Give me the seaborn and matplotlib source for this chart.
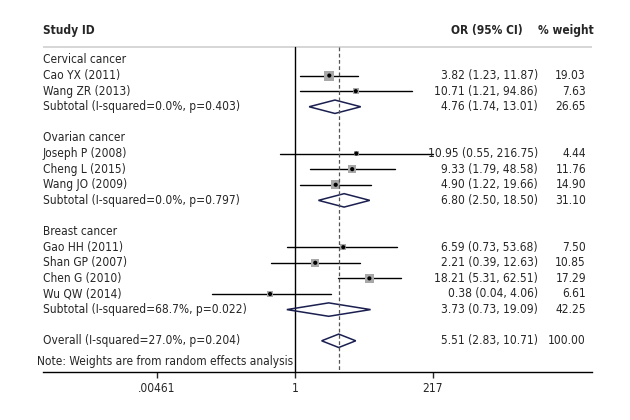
import numpy as np
import matplotlib
matplotlib.use("Agg")
import matplotlib.pyplot as plt
import seaborn as sns
import pandas as pd

# studies
groups = ["Cervical cancer", "Ovarian cancer", "Breast cancer"]
group_n = [2, 3, 4]
studies = ["Cao YX (2011)", "Wang ZR (2013)",
           "Joseph P (2008)", "Cheng L (2015)", "Wang JO (2009)",
           "Gao HH (2011)", "Shan GP (2007)", "Chen G (2010)", "Wu QW (2014)"]
or_est = [3.82, 10.71, 10.95, 9.33, 4.90, 6.59, 2.21, 18.21, 0.38]
ci_lo = [1.23, 1.21, 0.55, 1.79, 1.22, 0.73, 0.39, 5.31, 0.04]
ci_hi = [11.87, 94.86, 216.75, 48.58, 19.66, 53.68, 12.63, 62.51, 4.06]
weights = [19.03, 7.63, 4.44, 11.76, 14.90, 7.50, 10.85, 17.29, 6.61]

# subtotals + overall
sub_labels = ["Subtotal (I-squared=0.0%, p=0.403)",
              "Subtotal (I-squared=0.0%, p=0.797)",
              "Subtotal (I-squared=68.7%, p=0.022)"]
sub_est = [4.76, 6.80, 3.73]
sub_lo = [1.74, 2.50, 0.73]
sub_hi = [13.01, 18.50, 19.09]
sub_w = [26.65, 31.10, 42.25]
overall_label = "Overall (I-squared=27.0%, p=0.204)"
overall = (5.51, 2.83, 10.71, 100.00)

tick_vals = [0.00461, 1, 217]
tick_labels = [".00461", "1", "217"]

sns.set_style("white")
plt.rcParams['font.family'] = ['DejaVu Sans']
plt.rcParams['font.stretch'] = 'condensed'
FS = 8.6

# build row layout
rows = []
r = 0
k = 0
for g, n in enumerate(groups):
    rows.append(dict(kind="head", label=n, y=r)); r += 1
    for j in range(group_n[g]):
        rows.append(dict(kind="study", label=studies[k], est=or_est[k], lo=ci_lo[k],
                         hi=ci_hi[k], w=weights[k], y=r)); r += 1; k += 1
    rows.append(dict(kind="sub", label=sub_labels[g], est=sub_est[g], lo=sub_lo[g],
                     hi=sub_hi[g], w=sub_w[g], y=r)); r += 2
rows.append(dict(kind="sub", label=overall_label, est=overall[0], lo=overall[1],
                 hi=overall[2], w=overall[3], y=r))
note_y = r + 1.35
df = pd.DataFrame(rows)

fig = plt.figure(figsize=(6.3, 4.2), dpi=100)
ax = fig.add_axes([43 / 630, 48 / 420, 549 / 630, 352 / 420])
ax.set_xscale("log")
ax.set_xlim(np.exp(-9.82), np.exp(11.58))
ax.set_ylim(20.0, -2.56)

top = -0.83
ax.axhline(top, color="#d0d0d0", lw=1.2)
ax.plot([1, 1], [top, 20], color="black", lw=1.0)
ax.plot([overall[0]] * 2, [top, 20], color="#555555", lw=0.9, ls=(0, (3, 2)), zorder=5)

st = df[df.kind == "study"]
for _, s in st.iterrows():
    ax.plot([s.lo, s.hi], [s.y, s.y], color="black", lw=1.0, zorder=2)
sns.scatterplot(x=st.est, y=st.y, marker="s", s=2.72 * st.w, color="#a8a8a8",
                edgecolor="none", ax=ax, zorder=3, legend=False)
sns.scatterplot(x=st.est, y=st.y, marker="o", s=9, color="black",
                edgecolor="none", ax=ax, zorder=4, legend=False)

for _, s in df[df.kind == "sub"].iterrows():
    ax.fill([s.lo, s.est, s.hi, s.est, s.lo], [s.y, s.y - 0.43, s.y, s.y + 0.43, s.y],
            facecolor="none", edgecolor="#1a1f4f", lw=1.1, zorder=3)

trans = ax.get_yaxis_transform()
for _, s in df.iterrows():
    ax.text(0.0, s.y, s.label, transform=trans, ha="left", va="center", fontsize=FS)
    if s.kind != "head":
        ax.text(0.9016, s.y, f"{s.est:.2f} ({s.lo:.2f}, {s.hi:.2f})", transform=trans,
                ha="right", va="center", fontsize=FS)
        ax.text(0.989, s.y, f"{s.w:.2f}", transform=trans, ha="right", va="center", fontsize=FS)
ax.text(-0.011, note_y, "Note: Weights are from random effects analysis", transform=trans,
        ha="left", va="center", fontsize=FS)
ax.text(0.0, -1.86, "Study ID", transform=trans, ha="left", va="center", fontsize=FS, fontweight="bold")
ax.text(0.874, -1.86, "OR (95% CI)", transform=trans, ha="right", va="center", fontsize=FS, fontweight="bold")
ax.text(1.0036, -1.86, "% weight", transform=trans, ha="right", va="center", fontsize=FS, fontweight="bold")

ax.set_xticks(tick_vals)
ax.set_xticklabels(tick_labels, fontsize=FS)
ax.minorticks_off()
ax.tick_params(axis="x", bottom=True, length=4, width=1, pad=3)
ax.set_yticks([])
ax.set_xlabel("")
ax.set_ylabel("")
for sp in ["top", "left", "right"]:
    ax.spines[sp].set_visible(False)
ax.spines["bottom"].set_color("black")
ax.spines["bottom"].set_linewidth(1.0)

fig.savefig("out.png", dpi=100, facecolor="white")
